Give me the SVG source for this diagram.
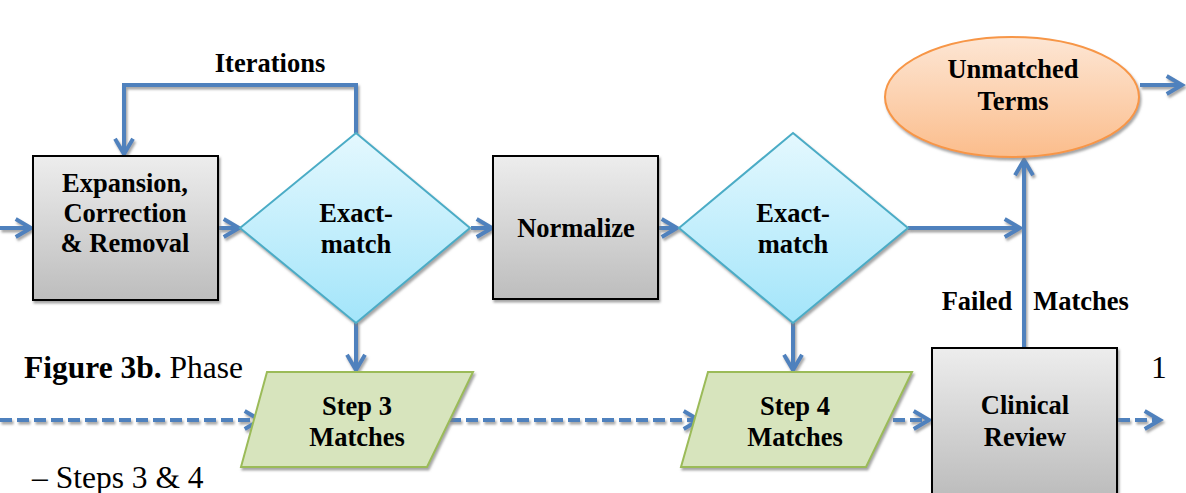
<svg xmlns="http://www.w3.org/2000/svg" width="1186" height="493" viewBox="0 0 1186 493">
  <style>
    .lbl { font-family: 'Liberation Serif', 'Times New Roman', serif; font-weight: bold; font-size: 26.5px; fill: #000; text-anchor: middle; }
    .cap { font-family: 'Liberation Serif', 'Times New Roman', serif; font-size: 31.5px; fill: #000; }
    .conn { fill: none; stroke: #4F81BD; stroke-width: 4; }
    .dash { stroke-dasharray: 12 5; }
    .proc { fill: url(#gGray); stroke: #000; stroke-width: 2; }
    .dec { fill: url(#gBlue); stroke: #4BACC6; stroke-width: 2; }
    .io { fill: #D7E4BD; stroke: #9BBB59; stroke-width: 2; }
    .term { fill: url(#gOrange); stroke: #F79646; stroke-width: 2; }
  </style>
  <defs>
    <linearGradient id="gGray" x1="0" y1="0" x2="0" y2="1">
      <stop offset="0" stop-color="#EDEDED"/>
      <stop offset="1" stop-color="#BDBDBD"/>
    </linearGradient>
    <linearGradient id="gBlue" x1="0" y1="0" x2="0" y2="1">
      <stop offset="0" stop-color="#E4F8FE"/>
      <stop offset="1" stop-color="#A3E5FA"/>
    </linearGradient>
    <linearGradient id="gOrange" x1="0" y1="0" x2="0" y2="1">
      <stop offset="0" stop-color="#FDE6D4"/>
      <stop offset="1" stop-color="#FBBD8C"/>
    </linearGradient>
    <filter id="shadow" x="-10%" y="-10%" width="130%" height="130%">
      <feDropShadow dx="1.5" dy="2.5" stdDeviation="0.8" flood-color="#7f7f7f" flood-opacity="0.7"/>
    </filter>
    <marker id="arrow" viewBox="0 0 12 12" refX="10" refY="6" markerWidth="5.4" markerHeight="5.4" orient="auto" markerUnits="strokeWidth">
      <path d="M1.5,1 L10,6 L1.5,11" fill="none" stroke="#4F81BD" stroke-width="2.2" stroke-linejoin="miter"/>
    </marker>
  </defs>

  <!-- connectors -->
  <g id="connectors" filter="url(#shadow)">
    <line class="conn" x1="0" y1="228" x2="31" y2="228" marker-end="url(#arrow)"/>
    <line class="conn" x1="219" y1="228" x2="239" y2="228" marker-end="url(#arrow)"/>
    <polyline class="conn" points="356,133 356,85 124,85 124,154" marker-end="url(#arrow)"/>
    <line class="conn" x1="471" y1="228" x2="492" y2="228" marker-end="url(#arrow)"/>
    <line class="conn" x1="659" y1="228" x2="677" y2="228" marker-end="url(#arrow)"/>
    <line class="conn" x1="908" y1="228" x2="1020" y2="228" marker-end="url(#arrow)"/>
    <line class="conn" x1="1024" y1="348" x2="1024" y2="160" marker-end="url(#arrow)"/>
    <line class="conn" x1="1140" y1="85" x2="1182" y2="85" marker-end="url(#arrow)"/>
    <line class="conn" x1="356" y1="323" x2="356" y2="370" marker-end="url(#arrow)"/>
    <line class="conn" x1="793" y1="323" x2="793" y2="370" marker-end="url(#arrow)"/>
    <line class="conn dash" x1="0" y1="420" x2="260" y2="420" marker-end="url(#arrow)"/>
    <line class="conn dash" x1="449" y1="420" x2="699" y2="420" marker-end="url(#arrow)"/>
    <line class="conn dash" x1="893" y1="420" x2="929" y2="420" marker-end="url(#arrow)"/>
    <line class="conn dash" x1="1118" y1="420" x2="1160" y2="420" marker-end="url(#arrow)"/>
  </g>
  <text class="lbl" x="270" y="72">Iterations</text>
  <text class="lbl" x="977" y="310">Failed</text>
  <text class="lbl" x="1081" y="310">Matches</text>

  <!-- process: expansion, correction and removal -->
  <g id="expand">
    <rect class="proc" x="33" y="156" width="185" height="144" filter="url(#shadow)"/>
    <text class="lbl" x="125" y="192">Expansion,</text>
    <text class="lbl" x="125" y="222">Correction</text>
    <text class="lbl" x="125" y="252">&amp; Removal</text>
  </g>

  <!-- first exact-match decision -->
  <g id="exact1">
    <polygon class="dec" points="356,133 470,228 356,323 240,228" filter="url(#shadow)"/>
    <text class="lbl" x="356" y="222">Exact-</text>
    <text class="lbl" x="356" y="253">match</text>
  </g>

  <!-- normalize -->
  <g id="normalize">
    <rect class="proc" x="493" y="156" width="165" height="143" filter="url(#shadow)"/>
    <text class="lbl" x="576" y="237">Normalize</text>
  </g>

  <!-- second exact-match decision -->
  <g id="exact2">
    <polygon class="dec" points="793,133 908,228 793,323 679,228" filter="url(#shadow)"/>
    <text class="lbl" x="793" y="222">Exact-</text>
    <text class="lbl" x="793" y="253">match</text>
  </g>

  <!-- unmatched terms -->
  <g id="unmatched">
    <ellipse class="term" cx="1012" cy="97" rx="127" ry="60" filter="url(#shadow)"/>
    <text class="lbl" x="1013" y="78">Unmatched</text>
    <text class="lbl" x="1013" y="110">Terms</text>
  </g>

  <!-- step 3 matches -->
  <g id="step3">
    <polygon class="io" points="267,372 473,372 427,467 241,467" filter="url(#shadow)"/>
    <text class="lbl" x="357" y="415">Step 3</text>
    <text class="lbl" x="357" y="446">Matches</text>
  </g>

  <!-- step 4 matches -->
  <g id="step4">
    <polygon class="io" points="708,372 912,372 866,467 681,467" filter="url(#shadow)"/>
    <text class="lbl" x="795" y="415">Step 4</text>
    <text class="lbl" x="795" y="446">Matches</text>
  </g>

  <!-- clinical review -->
  <g id="clinical">
    <rect class="proc" x="932" y="348" width="185" height="146" filter="url(#shadow)"/>
    <text class="lbl" x="1025" y="414">Clinical</text>
    <text class="lbl" x="1025" y="446">Review</text>
  </g>

  <!-- caption -->
  <text class="cap" x="24" y="378"><tspan font-weight="bold">Figure 3b.</tspan> Phase</text>
  <text class="cap" x="1151" y="378">1</text>
  <text class="cap" x="32" y="488">– Steps 3 &amp; 4</text>
</svg>
